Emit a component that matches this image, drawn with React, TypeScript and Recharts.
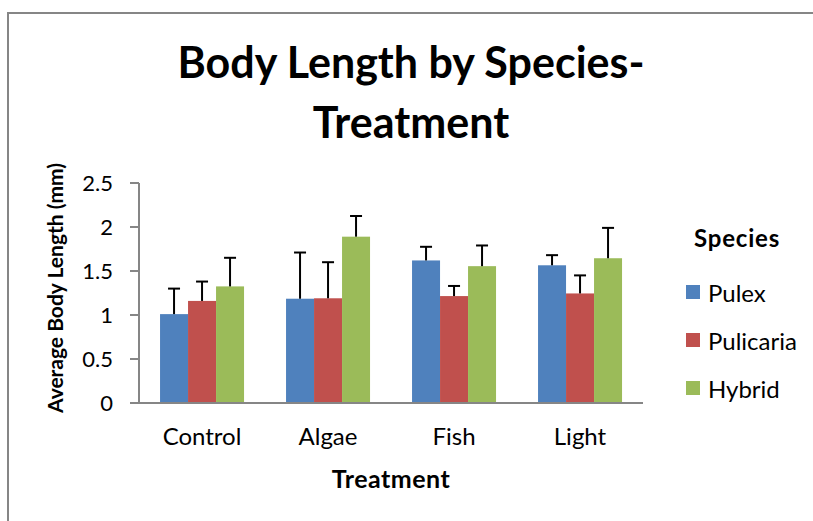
import React from 'react';
import { BarChart, Bar, XAxis, YAxis, Label } from 'recharts';

const treatments = ['Control', 'Algae', 'Fish', 'Light'];
const pulex = [1.01, 1.185, 1.62, 1.565];
const pulexErr = [0.29, 0.525, 0.155, 0.115];
const pulicaria = [1.16, 1.19, 1.215, 1.245];
const pulicariaErr = [0.22, 0.41, 0.115, 0.205];
const hybrid = [1.325, 1.89, 1.555, 1.645];
const hybridErr = [0.325, 0.235, 0.235, 0.345];
const yTicks = [0, 0.5, 1, 1.5, 2, 2.5];

const seriesNames = ['Pulex', 'Pulicaria', 'Hybrid'];
const seriesColors = ['#4F81BD', '#C0504D', '#9BBB59'];

const data = treatments.map((t, i) => ({
  name: t,
  Pulex: pulex[i],
  PulexErr: pulexErr[i],
  Pulicaria: pulicaria[i],
  PulicariaErr: pulicariaErr[i],
  Hybrid: hybrid[i],
  HybridErr: hybridErr[i],
}));

const FONT = 'Lato, "Open Sans", sans-serif';

const makeShape = (key: string, color: string) => (props: any) => {
  const { x, y, width, height, payload } = props;
  const v = payload[key];
  const e = payload[key + 'Err'];
  const pxPerUnit = v ? height / v : 0;
  const top = y - e * pxPerUnit;
  const cx = x + width / 2;
  return (
    <g>
      <rect x={x} y={y} width={width} height={height} fill={color} />
      <line x1={cx} y1={y} x2={cx} y2={top} stroke="#000" strokeWidth={2} />
      <line x1={cx - 6} y1={top} x2={cx + 6} y2={top} stroke="#000" strokeWidth={2} />
    </g>
  );
};

const LegendBox = () => (
  <div style={{ position: 'absolute', left: 680, top: 218, width: 133, fontFamily: FONT, color: '#000' }}>
    <div style={{ fontWeight: 700, fontSize: 24, letterSpacing: 0.8, marginLeft: 14, height: 40, lineHeight: '40px' }}>Species</div>
    {seriesNames.map((n, i) => (
      <div key={n} style={{ display: 'flex', alignItems: 'center', height: 48, marginTop: i === 0 ? 10 : 0 }}>
        <div style={{ width: 14, height: 14, background: seriesColors[i], marginLeft: 6, marginRight: 8 }} />
        <span style={{ fontSize: 24 }}>{n}</span>
      </div>
    ))}
  </div>
);

export default function App() {
  return (
    <div style={{ position: 'absolute', left: 0, top: 0, width: 813, height: 521, overflow: 'hidden', background: '#fff' }}>
      <svg width={813} height={521} style={{ position: 'absolute', left: 0, top: 0 }}>
        <path d="M8 521 L8 13 L813 13" fill="none" stroke="#868686" strokeWidth={2} />
        <text x={411} y={78} textAnchor="middle" fontFamily={FONT} fontWeight={700} fontSize={43} fill="#000">Body Length by Species-</text>
        <text x={411} y={138} textAnchor="middle" fontFamily={FONT} fontWeight={700} fontSize={43} fill="#000">Treatment</text>
      </svg>
      <div style={{ position: 'absolute', left: 0, top: 0 }}>
        <BarChart
          width={813}
          height={521}
          data={data}
          margin={{ top: 183, right: 170, bottom: 0, left: 0 }}
          barCategoryGap="16.7%"
          barGap={0}
        >
          <XAxis
            dataKey="name"
            tickLine={false}
            tickSize={0}
            tickMargin={25}
            height={118}
            axisLine={{ stroke: '#868686', strokeWidth: 2 }}
            tick={{ fill: '#000', fontSize: 24, fontFamily: FONT }}
            interval={0}
          >
            <Label
              content={(p: any) => {
                const vb = p.viewBox;
                return (
                  <text x={vb.x + vb.width / 2} y={vb.y + 85} textAnchor="middle" fontFamily={FONT} fontWeight={700} fontSize={25} letterSpacing={0.5} fill="#000">
                    Treatment
                  </text>
                );
              }}
            />
          </XAxis>
          <YAxis
            domain={[0, 2.5]}
            ticks={yTicks}
            width={139}
            tickSize={9}
            tickMargin={17}
            axisLine={{ stroke: '#868686', strokeWidth: 2 }}
            tickLine={{ stroke: '#868686', strokeWidth: 2 }}
            tick={{ fill: '#000', fontSize: 22, fontFamily: FONT }}
          >
            <Label
              content={(p: any) => {
                const vb = p.viewBox;
                const cy = vb.y + vb.height / 2 - 5;
                return (
                  <text x={63} y={cy} transform={`rotate(-90, 63, ${cy})`} textAnchor="middle" fontFamily={FONT} fontWeight={700} fontSize={21} fill="#000">
                    Average Body Length (mm)
                  </text>
                );
              }}
            />
          </YAxis>
          {seriesNames.map((n, i) => (
            <Bar key={n} dataKey={n} fill={seriesColors[i]} isAnimationActive={false} shape={makeShape(n, seriesColors[i])} />
          ))}
        </BarChart>
      </div>
      <LegendBox />
    </div>
  );
}
